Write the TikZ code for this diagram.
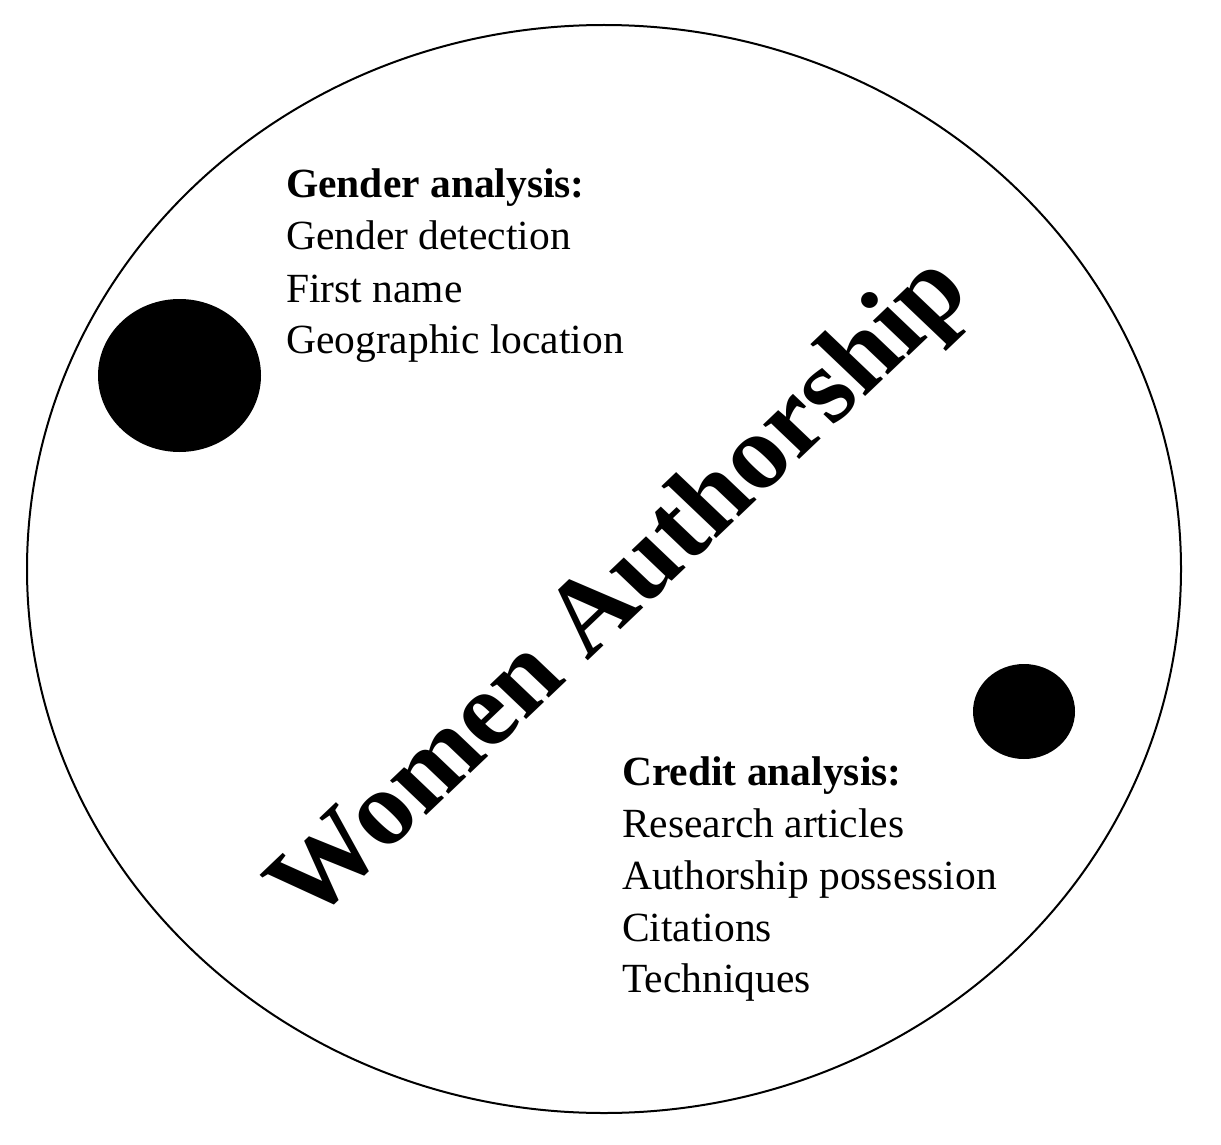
\documentclass[tikz,border=0pt]{standalone}
\usepackage{fontspec}
\setmainfont{Liberation Serif}
\usetikzlibrary{positioning}

\begin{document}
\begin{tikzpicture}[x=1pt,y=-1pt,
	entry/.style={anchor=base west,inner sep=0pt,font=\fontsize{41.5}{52}\selectfont},
	heading/.style={entry,font=\fontsize{41.5}{52}\selectfont\bfseries}]
	\useasboundingbox (0,0) rectangle (1221,1145);
	
	\draw[line width=2pt] (604,569) ellipse (577 and 544);
	
	\fill (179.5,375.5) ellipse (81.5 and 76.5);
	\fill (1024,711.5) ellipse (51 and 47.5);
	
	\node[heading] (gender) at (286,197) {Gender analysis:};
	\node[entry] (genderdet) at (286,249) {Gender detection};
	\node[entry] (firstname) at (286,302) {First name};
	\node[entry] (geoloc) at (286,353) {Geographic location};
	
	\node[heading] (credit) at (622,785) {Credit analysis:};
	\node[entry] (research) at (622,837) {Research articles};
	\node[entry] (authposs) at (622,889) {Authorship possession};
	\node[entry] (citations) at (622,941) {Citations};
	\node[entry] (techniques) at (622,992) {Techniques};
	
	% title, slightly wider than high
	\begin{scope}[xscale=1.05]
	\node[rotate=45,transform shape,inner sep=0pt,font=\fontsize{106}{116}\selectfont\bfseries] (title) at (593,592) {Women Authorship};
	\end{scope}
\end{tikzpicture}
\end{document}
